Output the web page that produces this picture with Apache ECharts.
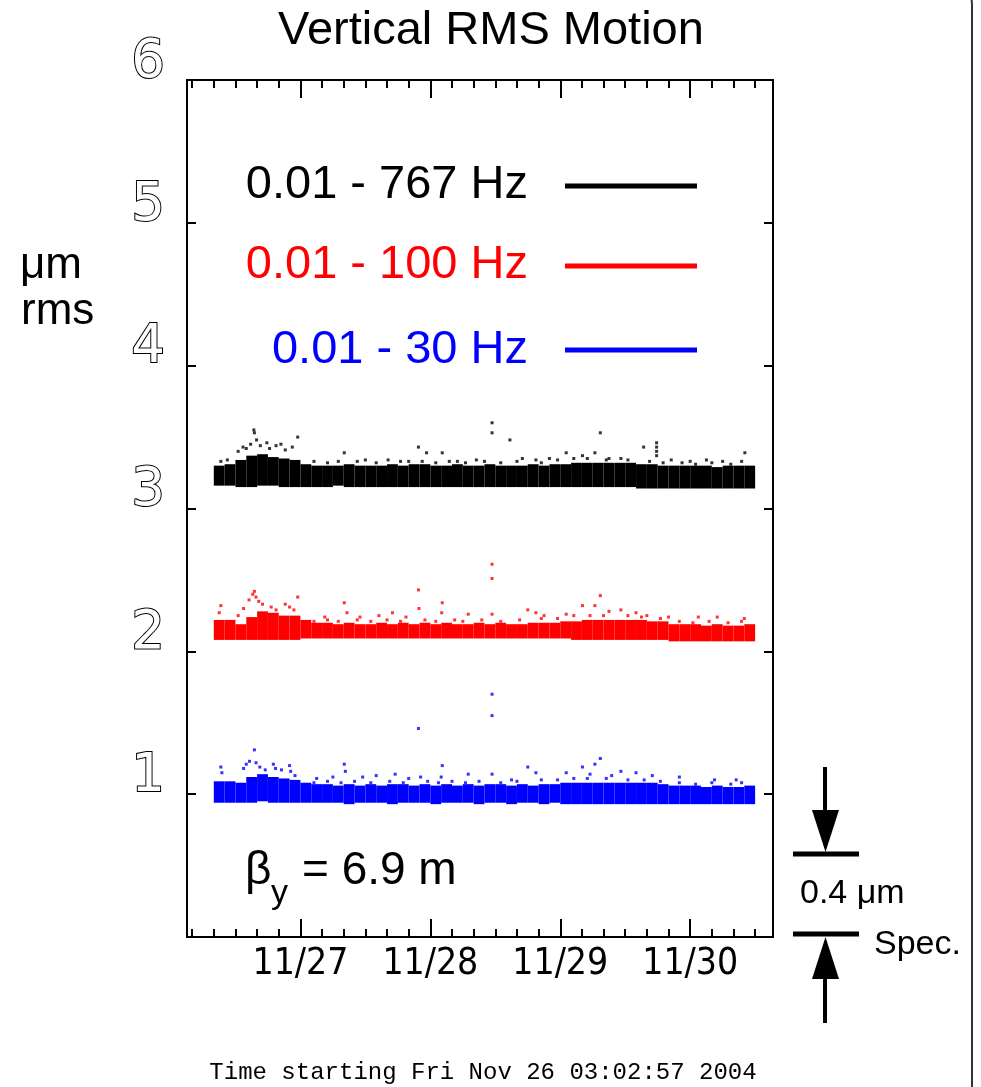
<!DOCTYPE html>
<html><head><meta charset="utf-8">
<script src="https://cdn.jsdelivr.net/npm/echarts@6/dist/echarts.min.js"></script>
<style>html,body{margin:0;padding:0;background:#fff}#c{width:981px;height:1087px}</style>
</head><body><div id="c"></div>
<script>
// Hours counted from Nov 26 2004 00:00
const axisStartHour = 3.0492;   // 03:02:57
const axisEndHour = 111.3;
const minorTickHours = [4,8,12,16,20,24,28,32,36,40,44,48,52,56,60,64,68,72,76,80,84,88,92,96,100,104,108];
const dayTickHours = [24,48,72,96];
const dayTickLabels = ['11/27','11/28','11/29','11/30'];
const yTickLabels = ['', '1', '2', '3', '4', '5', '6'];
const seriesNames = ['0.01 - 767 Hz', '0.01 - 100 Hz', '0.01 - 30 Hz'];
const seriesColors = ['#000000', '#ff0000', '#0000ff'];
const columnSpanHours = 2;
const columnHours = [8,10,12,14,16,18,20,22,24,26,28,30,32,34,36,38,40,42,44,46,48,50,52,54,56,58,60,62,64,66,68,70,72,74,76,78,80,82,84,86,88,90,92,94,96,98,100,102,104,106];

const blackLow  = [3.16,3.16,3.15,3.15,3.16,3.16,3.15,3.15,3.15,3.15,3.15,3.16,3.15,3.15,3.15,3.15,3.15,3.15,3.15,3.15,3.15,3.15,3.15,3.15,3.15,3.15,3.15,3.15,3.15,3.15,3.15,3.15,3.15,3.15,3.15,3.15,3.15,3.15,3.15,3.14,3.14,3.14,3.14,3.14,3.14,3.14,3.14,3.14,3.14,3.14];
const blackHigh = [3.30,3.31,3.34,3.37,3.38,3.36,3.35,3.34,3.31,3.30,3.30,3.30,3.31,3.30,3.30,3.30,3.31,3.30,3.31,3.31,3.30,3.30,3.31,3.30,3.30,3.31,3.30,3.30,3.30,3.31,3.30,3.31,3.31,3.32,3.32,3.32,3.32,3.32,3.32,3.31,3.31,3.30,3.30,3.30,3.30,3.30,3.29,3.30,3.30,3.30];
const redLow  = [2.08,2.08,2.08,2.08,2.08,2.08,2.08,2.08,2.09,2.09,2.09,2.09,2.09,2.09,2.09,2.09,2.09,2.09,2.09,2.09,2.09,2.09,2.09,2.09,2.09,2.09,2.09,2.09,2.09,2.09,2.09,2.09,2.09,2.08,2.08,2.08,2.08,2.08,2.08,2.08,2.08,2.08,2.07,2.07,2.07,2.07,2.07,2.07,2.07,2.07];
const redHigh = [2.22,2.22,2.19,2.24,2.28,2.27,2.25,2.25,2.22,2.20,2.20,2.19,2.20,2.19,2.19,2.20,2.19,2.20,2.19,2.20,2.19,2.20,2.19,2.19,2.20,2.19,2.20,2.19,2.19,2.20,2.20,2.20,2.21,2.21,2.22,2.22,2.22,2.22,2.22,2.22,2.21,2.21,2.19,2.19,2.19,2.18,2.19,2.18,2.18,2.19];
const blueLow  = [0.94,0.94,0.94,0.94,0.95,0.94,0.94,0.94,0.94,0.94,0.94,0.94,0.93,0.94,0.94,0.94,0.93,0.94,0.94,0.94,0.93,0.94,0.94,0.94,0.93,0.94,0.94,0.93,0.94,0.94,0.93,0.94,0.93,0.93,0.93,0.93,0.93,0.93,0.93,0.93,0.93,0.93,0.93,0.93,0.93,0.93,0.93,0.93,0.93,0.93];
const blueHigh = [1.09,1.09,1.08,1.12,1.14,1.12,1.11,1.10,1.08,1.07,1.07,1.06,1.07,1.06,1.07,1.06,1.07,1.07,1.06,1.07,1.06,1.07,1.06,1.07,1.06,1.07,1.07,1.06,1.07,1.06,1.07,1.07,1.08,1.08,1.08,1.08,1.08,1.08,1.08,1.08,1.08,1.07,1.06,1.06,1.06,1.05,1.06,1.05,1.05,1.06];

const blackDots = [[9.3,3.33],[10.5,3.34],[12.5,3.40],[13.4,3.43],[14.0,3.42],[14.8,3.45],[15.4,3.55],[15.5,3.53],[15.9,3.48],[16.6,3.44],[17.8,3.46],[18.3,3.42],[19.5,3.44],[20.4,3.45],[21.2,3.41],[22.5,3.43],[23.5,3.50],[32.1,3.39],[36.0,3.34],[40.2,3.34],[44.0,3.33],[45.8,3.43],[47.3,3.39],[50.2,3.39],[53.0,3.33],[56.5,3.34],[59.4,3.60],[59.4,3.53],[62.7,3.48],[65.0,3.35],[67.5,3.34],[70.0,3.35],[73.1,3.39],[76.1,3.37],[78.4,3.39],[79.4,3.53],[81.0,3.35],[83.2,3.35],[87.4,3.43],[89.8,3.46],[89.8,3.43],[89.8,3.40],[89.8,3.37],[92.5,3.34],[96.0,3.33],[99.0,3.34],[102.0,3.33],[106.1,3.39],
  [26.5,3.33],[29.0,3.32],[31.0,3.33],[34.5,3.33],[38.0,3.32],[42.5,3.33],[46.5,3.33],[49.0,3.32],[51.5,3.33],[54.5,3.32],[58.0,3.33],[61.0,3.32],[64.0,3.33],[68.5,3.32],[71.5,3.34],[74.5,3.35],[77.0,3.35],[80.5,3.34],[84.5,3.34],[88.5,3.33],[91.0,3.32],[94.5,3.32],[97.0,3.31],[100.0,3.32],[103.5,3.31],[105.5,3.33]];
const redDots = [[9.0,2.27],[9.3,2.32],[12.5,2.25],[13.5,2.30],[14.5,2.36],[15.2,2.40],[15.5,2.42],[15.8,2.38],[16.3,2.35],[17.0,2.33],[18.6,2.31],[19.5,2.29],[21.2,2.33],[22.0,2.31],[22.8,2.29],[23.5,2.38],[28.5,2.24],[32.1,2.34],[32.6,2.27],[35.0,2.24],[38.5,2.25],[41.0,2.27],[43.5,2.24],[45.8,2.43],[45.9,2.30],[50.2,2.34],[50.1,2.27],[55.0,2.26],[59.4,2.61],[59.4,2.51],[59.4,2.26],[66.0,2.29],[67.5,2.27],[69.0,2.25],[73.1,2.26],[76.1,2.32],[78.4,2.32],[79.4,2.39],[81.0,2.28],[83.2,2.29],[86.0,2.27],[88.0,2.25],[92.0,2.24],[97.5,2.24],[101.0,2.24],[106.0,2.23],
  [26.5,2.21],[29.0,2.22],[31.0,2.21],[34.5,2.22],[37.0,2.21],[40.0,2.22],[42.5,2.21],[47.0,2.22],[49.0,2.21],[52.5,2.22],[54.0,2.21],[57.5,2.22],[61.0,2.21],[64.5,2.22],[68.5,2.23],[71.5,2.23],[74.5,2.25],[77.5,2.25],[80.0,2.25],[84.5,2.25],[87.0,2.24],[90.5,2.23],[94.0,2.21],[96.5,2.20],[99.5,2.21],[103.0,2.20],[105.5,2.21]];
const blueDots = [[9.3,1.19],[9.5,1.15],[13.5,1.18],[14.0,1.21],[14.6,1.23],[15.5,1.31],[15.8,1.22],[16.5,1.19],[17.5,1.17],[19.0,1.21],[19.4,1.18],[20.5,1.17],[22.0,1.20],[22.2,1.16],[23.0,1.13],[27.0,1.11],[30.0,1.12],[32.1,1.21],[32.3,1.16],[35.5,1.12],[38.0,1.13],[41.5,1.14],[44.0,1.11],[45.8,1.46],[46.2,1.12],[50.2,1.20],[50.0,1.12],[55.0,1.14],[59.4,1.70],[59.4,1.55],[59.4,1.14],[63.0,1.10],[66.0,1.19],[67.5,1.15],[73.1,1.15],[76.1,1.19],[77.5,1.14],[78.4,1.21],[79.4,1.25],[81.5,1.13],[83.2,1.16],[86.0,1.15],[89.0,1.13],[94.0,1.12],[100.5,1.10],[104.5,1.10],
  [26.5,1.08],[29.0,1.09],[31.5,1.08],[34.0,1.09],[37.0,1.08],[40.5,1.09],[43.0,1.08],[47.5,1.09],[49.5,1.08],[52.0,1.09],[54.5,1.08],[57.0,1.09],[61.0,1.08],[64.0,1.09],[68.5,1.10],[71.5,1.10],[74.5,1.11],[77.0,1.11],[80.5,1.11],[84.5,1.10],[87.5,1.10],[90.5,1.09],[94.0,1.08],[97.0,1.07],[100.0,1.08],[103.5,1.07],[105.5,1.08]];

const chart = echarts.init(document.getElementById('c'), null, {renderer: 'canvas'});

function bandData(low, high) {
  return columnHours.map((h, i) => [h, low[i], high[i]]);
}
function bandSeries(name, color, low, high) {
  return {
    name, type: 'custom', xAxisIndex: 0, yAxisIndex: 0,
    data: bandData(low, high),
    encode: {x: 0, y: [1, 2]},
    renderItem: (params, api) => {
      const h = api.value(0);
      const p1 = api.coord([h, api.value(2)]);
      const p2 = api.coord([h + columnSpanHours, api.value(1)]);
      return {type: 'rect', shape: {x: p1[0], y: p1[1], width: p2[0] - p1[0], height: p2[1] - p1[1]}, style: {fill: color}};
    },
    silent: true
  };
}
function dotSeries(name, color, dots) {
  return {name, type: 'scatter', xAxisIndex: 0, yAxisIndex: 0, data: dots, symbol: 'rect', symbolSize: 3, itemStyle: {color}, silent: true};
}

const xBase = {type: 'value', min: axisStartHour, max: axisEndHour, splitLine: {show: false},
  axisLine: {show: true, onZero: false, lineStyle: {color: '#000', width: 2}}};
const labelFont = "'DejaVu Sans Condensed', 'Liberation Sans Narrow', 'DejaVu Sans'";

const option = {
  animation: false,
  backgroundColor: '#fff',
  title: {text: 'Vertical RMS Motion', left: 486, top: 3, textAlign: 'center',
    textStyle: {fontFamily: 'Liberation Sans', fontSize: 47, fontWeight: 'normal', color: '#000'}},
  grid: {left: 187, right: 208, top: 80, bottom: 150, containLabel: false},
  xAxis: [
    Object.assign({}, xBase, {position: 'bottom', axisTick: {show: true, inside: true, length: 8, customValues: minorTickHours, lineStyle: {color: '#000', width: 2}}, axisLabel: {show: false}}),
    Object.assign({}, xBase, {position: 'bottom', axisTick: {show: true, inside: true, length: 18, customValues: dayTickHours, lineStyle: {color: '#000', width: 2}},
      axisLabel: {show: true, customValues: dayTickHours, margin: 9, fontFamily: labelFont, fontSize: 37, color: '#000',
        formatter: v => dayTickLabels[dayTickHours.indexOf(Math.round(v))] || ''}}),
    Object.assign({}, xBase, {position: 'top', axisTick: {show: true, inside: true, length: 8, customValues: minorTickHours, lineStyle: {color: '#000', width: 2}}, axisLabel: {show: false}}),
    Object.assign({}, xBase, {position: 'top', axisTick: {show: true, inside: true, length: 18, customValues: dayTickHours, lineStyle: {color: '#000', width: 2}}, axisLabel: {show: false}})
  ],
  yAxis: [
    {type: 'value', position: 'left', min: 0, max: 6, interval: 1, splitLine: {show: false},
      axisLine: {show: true, onZero: false, lineStyle: {color: '#000', width: 2}},
      axisTick: {show: true, inside: true, length: 9, lineStyle: {color: '#000', width: 2}},
      axisLabel: {show: true, margin: 22, fontFamily: 'DejaVu Sans', fontSize: 53, color: '#fff',
        textBorderColor: '#000', textBorderWidth: 2, verticalAlign: 'bottom', lineHeight: 34,
        formatter: v => yTickLabels[Math.round(v)] || ''}},
    {type: 'value', position: 'right', min: 0, max: 6, interval: 1, splitLine: {show: false},
      axisLine: {show: true, onZero: false, lineStyle: {color: '#000', width: 2}},
      axisTick: {show: true, inside: true, length: 9, lineStyle: {color: '#000', width: 2}},
      axisLabel: {show: false}}
  ],
  series: [
    bandSeries(seriesNames[0], seriesColors[0], blackLow, blackHigh),
    dotSeries(seriesNames[0], seriesColors[0], blackDots),
    bandSeries(seriesNames[1], seriesColors[1], redLow, redHigh),
    dotSeries(seriesNames[1], seriesColors[1], redDots),
    bandSeries(seriesNames[2], seriesColors[2], blueLow, blueHigh),
    dotSeries(seriesNames[2], seriesColors[2], blueDots)
  ],
  graphic: [
    {type: 'rect', shape: {x: -40, y: -25, width: 1012, height: 1200, r: 30}, style: {fill: 'none', stroke: '#333', lineWidth: 2}, silent: true},
    {type: 'text', x: 528, y: 185, style: {text: seriesNames[0], align: 'right', verticalAlign: 'middle', font: '47px "Liberation Sans"', fill: seriesColors[0]}},
    {type: 'line', shape: {x1: 565, y1: 186, x2: 697, y2: 186}, style: {stroke: seriesColors[0], lineWidth: 5}},
    {type: 'text', x: 528, y: 265, style: {text: seriesNames[1], align: 'right', verticalAlign: 'middle', font: '47px "Liberation Sans"', fill: seriesColors[1]}},
    {type: 'line', shape: {x1: 565, y1: 266, x2: 697, y2: 266}, style: {stroke: seriesColors[1], lineWidth: 5}},
    {type: 'text', x: 528, y: 350, style: {text: seriesNames[2], align: 'right', verticalAlign: 'middle', font: '47px "Liberation Sans"', fill: seriesColors[2]}},
    {type: 'line', shape: {x1: 565, y1: 350, x2: 697, y2: 350}, style: {stroke: seriesColors[2], lineWidth: 5}},
    {type: 'text', x: 20, y: 266, style: {text: 'μm', verticalAlign: 'middle', font: '44px "Liberation Sans"', fill: '#000'}},
    {type: 'text', x: 21, y: 312, style: {text: 'rms', verticalAlign: 'middle', font: '44px "Liberation Sans"', fill: '#000'}},
    {type: 'text', x: 245, y: 871, style: {text: 'β', verticalAlign: 'middle', font: '46px "Liberation Sans"', fill: '#000'}},
    {type: 'text', x: 271, y: 894, style: {text: 'y', verticalAlign: 'middle', font: '34px "Liberation Sans"', fill: '#000'}},
    {type: 'text', x: 302, y: 871, style: {text: '= 6.9 m', verticalAlign: 'middle', font: '46px "Liberation Sans"', fill: '#000'}},
    {type: 'line', shape: {x1: 825, y1: 767, x2: 825, y2: 815}, style: {stroke: '#000', lineWidth: 4}},
    {type: 'polygon', shape: {points: [[812, 810], [839, 810], [825.5, 852]]}, style: {fill: '#000'}},
    {type: 'line', shape: {x1: 793, y1: 854, x2: 859, y2: 854}, style: {stroke: '#000', lineWidth: 5}},
    {type: 'text', x: 800, y: 894, style: {text: '0.4 μm', verticalAlign: 'middle', font: '34px "Liberation Sans"', fill: '#000'}},
    {type: 'line', shape: {x1: 793, y1: 934, x2: 859, y2: 934}, style: {stroke: '#000', lineWidth: 5}},
    {type: 'polygon', shape: {points: [[825.5, 937], [812, 979], [839, 979]]}, style: {fill: '#000'}},
    {type: 'line', shape: {x1: 825, y1: 975, x2: 825, y2: 1023}, style: {stroke: '#000', lineWidth: 4}},
    {type: 'text', x: 874, y: 945, style: {text: 'Spec.', verticalAlign: 'middle', font: '34px "Liberation Sans"', fill: '#000'}},
    {type: 'text', x: 483, y: 1073, style: {text: 'Time starting Fri Nov 26 03:02:57 2004', align: 'center', verticalAlign: 'middle', font: '24px "Liberation Mono"', fill: '#000'}}
  ]
};
chart.setOption(option);
</script>
</body></html>
